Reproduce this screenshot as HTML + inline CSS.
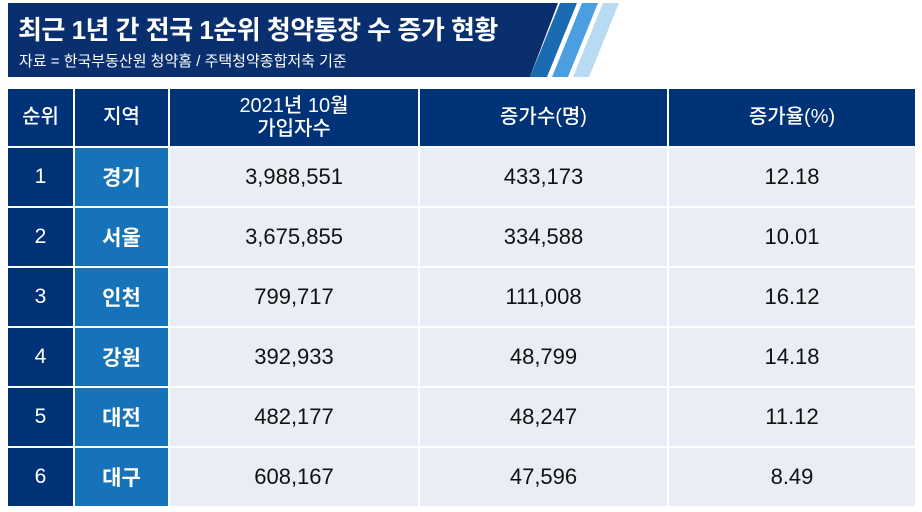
<!DOCTYPE html>
<html><head><meta charset="utf-8"><style>
body{margin:0;width:922px;height:512px;background:#fff;position:relative;overflow:hidden;font-family:"Liberation Sans","Noto Sans CJK KR",sans-serif}
.c{position:absolute;display:flex;align-items:center;justify-content:center;text-align:center;box-sizing:border-box}
.h{background:#003278;color:#fff;font-size:20px;line-height:23px;font-weight:500}
.r{background:#003278;color:#fff;font-size:21px}
.g{background:#1673b9;color:#fff;font-size:21px;font-weight:bold}
.d{background:#e9edf5;color:#111;font-size:22px}
</style></head><body>
<div style="position:absolute;left:8px;top:3px;width:550px;height:74px;background:#0a2f6e;clip-path:polygon(0 0,100% 0,94.9% 100%,0 100%)"></div>
<svg style="position:absolute;left:0;top:0" width="922" height="80">
<polygon points="560,3 577,3 547,77 530,77" fill="#1a6bb0"/>
<polygon points="582,3 598,3 568,77 552,77" fill="#4b9ee0"/>
<polygon points="603,3 619,3 589,77 573,77" fill="#b9daf3"/>
</svg>
<div style="position:absolute;left:18px;top:10px;color:#fff;font-size:26px;font-weight:bold;letter-spacing:-0.5px">최근 1년 간 전국 1순위 청약통장 수 증가 현황</div>
<div style="position:absolute;left:19px;top:50px;color:#fff;font-size:15px">자료 = 한국부동산원 청약홈 / 주택청약종합저축 기준</div>
<div id="t"></div>
<script>
const ranks=["1","2","3","4","5","6"];
const regions=["경기","서울","인천","강원","대전","대구"];
const subscribers=["3,988,551","3,675,855","799,717","392,933","482,177","608,167"];
const increases=["433,173","334,588","111,008","48,799","48,247","47,596"];
const rates=["12.18","10.01","16.12","14.18","11.12","8.49"];
const headers=["순위","지역","2021년 10월<br>가입자수","증가수(명)","증가율(%)"];
const colX=[8,75,170,420,669], colW=[65,93,248,247,246];
const t=document.getElementById('t');
function cell(x,y,w,h,cls,html,name){const e=document.createElement('div');e.className='c '+cls;e.style.cssText=`left:${x}px;top:${y}px;width:${w}px;height:${h}px`;e.innerHTML=html;


t.appendChild(e);}
headers.forEach((h,i)=>cell(colX[i],89,colW[i],57,'h',h,'header-cell'));
for(let r=0;r<ranks.length;r++){const y=148+r*60,h=58;
cell(colX[0],y,colW[0],h,'r',ranks[r],'rank-cell');
cell(colX[1],y,colW[1],h,'g',regions[r],'region-cell');
cell(colX[2],y,colW[2],h,'d',subscribers[r],'subscribers-cell');
cell(colX[3],y,colW[3],h,'d',increases[r],'increase-cell');
cell(colX[4],y,colW[4],h,'d',rates[r],'rate-cell');}
</script>
</body></html>
